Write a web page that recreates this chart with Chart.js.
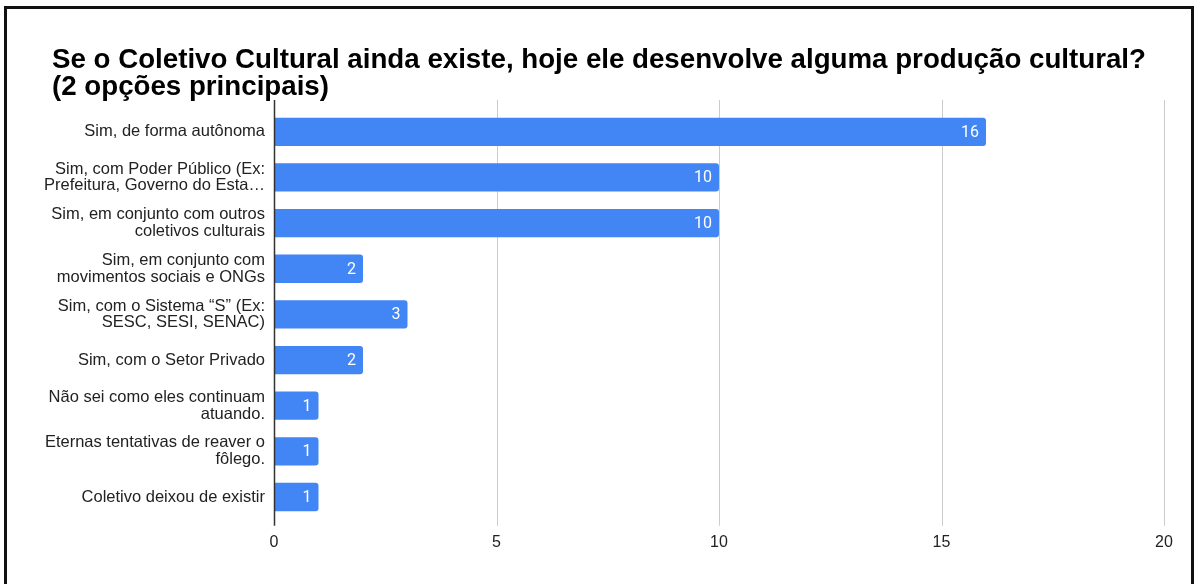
<!DOCTYPE html>
<html>
<head>
<meta charset="utf-8">
<script src="https://cdn.jsdelivr.net/npm/chart.js@4"></script>
<style>
  html, body { margin: 0; padding: 0; background: #fff; overflow: hidden; }
  #wrap { position: relative; width: 1195px; height: 584px; }
  #frame {
    position: absolute; left: 4px; top: 6px; width: 1184px; height: 640px;
    border: 3px solid #111; border-bottom: none; pointer-events: none;
  }
</style>
</head>
<body>
<div id="wrap">
  <canvas id="chart" width="1195" height="584"></canvas>
  <div id="frame"></div>
</div>
<script>
// Answers (wrapped as they appear on the axis)
const categories = [
    'Sim, de forma autônoma',
    ['Sim, com Poder Público (Ex:', 'Prefeitura, Governo do Esta…'],
    ['Sim, em conjunto com outros', 'coletivos culturais'],
    ['Sim, em conjunto com', 'movimentos sociais e ONGs'],
    ['Sim, com o Sistema “S” (Ex:', 'SESC, SESI, SENAC)'],
    'Sim, com o Setor Privado',
    ['Não sei como eles continuam', 'atuando.'],
    ['Eternas tentativas de reaver o', 'fôlego.'],
    'Coletivo deixou de existir'
];
const counts = [16, 10, 10, 2, 3, 2, 1, 1, 1];
const xTicks = [0, 5, 10, 15, 20];

const titleLines = [
    'Se o Coletivo Cultural ainda existe, hoje ele desenvolve alguma produção cultural?',
    '(2 opções principais)'
];

// title is indented a bit more than the axis labels
const titleIndent = {
    id: 'titleIndent',
    afterLayout(chart) {
        if (chart.titleBlock) chart.titleBlock.left += 12;
    }
};

// vertical grid lines, a little taller than the plot area
const gridLines = {
    id: 'gridLines',
    beforeDatasetsDraw(chart) {
        const { ctx, chartArea, scales: { x } } = chart;
        ctx.save();
        ctx.strokeStyle = '#cccccc';
        ctx.lineWidth = 1;
        x.ticks.forEach(t => {
            if (t.value === 0) return;
            const px = Math.round(x.getPixelForValue(t.value)) + 0.5;
            ctx.beginPath();
            ctx.moveTo(px, chartArea.top - 9);
            ctx.lineTo(px, chartArea.bottom + 6);
            ctx.stroke();
        });
        ctx.restore();
    },
    afterDatasetsDraw(chart) {
        const { ctx, chartArea, scales: { x } } = chart;
        const px = Math.round(x.getPixelForValue(0)) + 0.5;
        ctx.save();
        ctx.strokeStyle = '#333333';
        ctx.lineWidth = 1.5;
        ctx.beginPath();
        ctx.moveTo(px, chartArea.top - 9);
        ctx.lineTo(px, chartArea.bottom + 6);
        ctx.stroke();
        ctx.restore();
    }
};

// value written inside the end of each bar
const barValues = {
    id: 'barValues',
    afterDatasetsDraw(chart) {
        const { ctx } = chart;
        const meta = chart.getDatasetMeta(0);
        ctx.save();
        ctx.font = '16px Roboto';
        ctx.fillStyle = '#ffffff';
        ctx.textAlign = 'right';
        ctx.textBaseline = 'middle';
        meta.data.forEach((bar, i) => {
            ctx.fillText(String(counts[i]), bar.x - 7, bar.y + 1);
        });
        ctx.restore();
    }
};

new Chart(document.getElementById('chart'), {
    type: 'bar',
    data: {
        labels: categories,
        datasets: [{
            data: counts,
            backgroundColor: '#4285f4',
            borderRadius: 3,
            borderSkipped: 'start',
            barPercentage: 0.62,
            categoryPercentage: 1
        }]
    },
    options: {
        indexAxis: 'y',
        responsive: false,
        animation: false,
        layout: { padding: { left: 40, right: 31, top: 47, bottom: 19 } },
        plugins: {
            legend: { display: false },
            tooltip: { enabled: false },
            title: {
                display: true,
                text: titleLines,
                align: 'start',
                color: '#000000',
                font: { family: 'Liberation Sans, Arial, sans-serif', size: 27.7, weight: 'bold', lineHeight: 0.98 },
                padding: { top: 0, bottom: 7.7 }
            }
        },
        scales: {
            x: {
                min: 0,
                max: 20,
                afterBuildTicks(scale) {
                    scale.ticks = xTicks.map(v => ({ value: v }));
                },
                grid: { display: false, drawTicks: false },
                border: { display: false },
                ticks: {
                    padding: 13,
                    color: '#222222',
                    font: { family: 'Liberation Sans, Arial, sans-serif', size: 16 }
                }
            },
            y: {
                afterFit(scale) { scale.width = 234; },
                grid: { display: false, drawTicks: false },
                border: { display: false },
                ticks: {
                    padding: 9,
                    color: '#222222',
                    font: { family: 'Liberation Sans, Arial, sans-serif', size: 16.5, lineHeight: 1.02 }
                }
            }
        }
    },
    plugins: [titleIndent, gridLines, barValues]
});
</script>
</body>
</html>
